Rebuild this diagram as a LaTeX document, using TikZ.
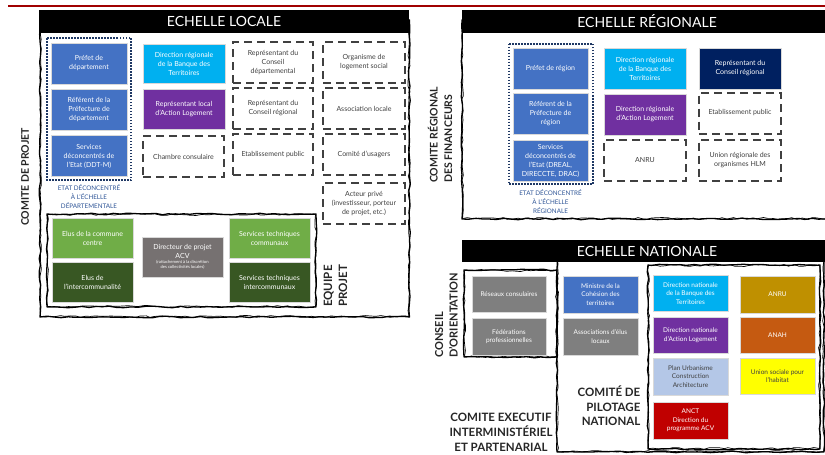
\documentclass[tikz,border=0pt]{standalone}
\usepackage{fontspec}
\setmainfont{Lato}
\usetikzlibrary{decorations.pathmorphing}
\definecolor{redline}{HTML}{A00000}
\definecolor{stblue}{HTML}{4472C4}
\definecolor{cyanb}{HTML}{00B0F0}
\definecolor{purpb}{HTML}{7030A0}
\definecolor{navyb}{HTML}{002060}
\definecolor{greenl}{HTML}{70AD47}
\definecolor{greend}{HTML}{385723}
\definecolor{grayd}{HTML}{767171}
\definecolor{grayn}{HTML}{7F7F7F}
\definecolor{lblue}{HTML}{B4C7E7}
\definecolor{redb}{HTML}{C00000}
\definecolor{goldb}{HTML}{BF9000}
\definecolor{orangeb}{HTML}{C55A11}
\definecolor{yellowb}{HTML}{FFFF00}
\definecolor{dotblue}{HTML}{1F3864}
\definecolor{etatblue}{HTML}{2F5597}
\definecolor{dashgray}{HTML}{404040}
\newcommand\fsz[2]{\fontsize{#1}{#2}\selectfont}
\tikzset{
  sz/.style 2 args={minimum width=#1, minimum height=#2},
  cbox/.style={inner sep=0pt, align=center, text=white, font=\fsz{7}{9}, draw=white!85!black, line width=0.4pt},
  nbox/.style={cbox, font=\fsz{6.5}{8.5}},
  dbox/.style={inner sep=0pt, align=center, text=dashgray, font=\fsz{7}{9}, draw=dashgray, line width=2pt, dash pattern=on 8pt off 5pt},
  sketch/.style={draw=black, line width=1.3pt, line join=round, decorate, decoration={random steps, segment length=7pt, amplitude=0.8pt}},
  sketchb/.style={draw=black, line width=0.7pt, line join=round, decorate, decoration={random steps, segment length=5pt, amplitude=1pt}},
  dotframe/.style={draw=dotblue, line width=2pt, dash pattern=on 1.5pt off 1.5pt},
  hdr/.style={fill=black, text=white, inner sep=0pt, font=\fsz{14}{16}},
  biglab/.style={inner sep=0pt, text=black!85, font=\bfseries\fsz{11}{14.5}},
  etat/.style={inner sep=0pt, align=center, text=etatblue, font=\fsz{6.3}{9}},
}
\begin{document}
\pgfmathsetseed{7}
\begin{tikzpicture}[x=1pt,y=-1pt]
\useasboundingbox (0,0) rectangle (825,455);
\fill[white] (0,0) rectangle (825,455);
\draw[redline, line width=1.5pt] (8,6) -- (825,6);

% ---------- frames ----------
\draw[sketch] (40,20) rectangle (409.5,317);
\draw[sketchb] (40.5,20) rectangle (409,316.5);
\draw[sketch] (47,214) rectangle (316,307);
\draw[sketchb] (47.5,214.5) rectangle (315.5,306.5);
\draw[sketch] (462,20) rectangle (835,219);
\draw[sketchb] (462.5,20) rectangle (835,218.5);
\draw[sketch] (557,258) rectangle (824,452);
\draw[sketchb] (557.5,258) rectangle (823.5,451.5);
\draw[sketch] (648,265) rectangle (820,449);
\draw[sketchb] (648.5,265.5) rectangle (819.5,448.5);
\draw[sketch] (464,270) rectangle (557,357);
\draw[sketchb] (464.5,270.5) rectangle (556.5,356.5);
\draw[dotframe] (47,38) rectangle (131,180);
\draw[dotframe] (508.5,43.5) rectangle (592.5,184);

% ---------- headers ----------
\node[hdr, sz={370}{23}] (hL) at (224,21.5) {ECHELLE LOCALE};
\node[hdr, sz={370}{23}] (hR) at (647,21.5) {ECHELLE RÉGIONALE};
\node[hdr, sz={370}{22}] (hN) at (647,251) {ECHELLE NATIONALE};

% ---------- local ----------
\node[cbox, fill=stblue, sz={76}{41}] (pref) at (89,63.5) {Préfet de\\département};
\node[cbox, fill=stblue, sz={76}{41}] (refd) at (89,109.5) {Référent de la\\Préfecture de\\département};
\node[cbox, fill=stblue, sz={76}{41}] (servd) at (89,156) {Services\\déconcentrés de\\l’Etat (DDT-M)};
\node[etat] (etatL) at (89,197) {ETAT DÉCONCENTRÉ\\À L’ÉCHELLE\\DÉPARTEMENTALE};
\node[cbox, fill=cyanb, sz={82}{39}] (drbt) at (184,63.5) {Direction régionale\\de la Banque des\\Territoires};
\node[cbox, fill=purpb, sz={82}{40}] (ral) at (184,109) {Représentant local\\d’Action Logement};
\node[dbox, sz={81}{41}] (chambre) at (183.5,156.5) {Chambre consulaire};
\node[dbox, sz={80}{41}] (rcd) at (273,62.5) {Représentant du\\Conseil\\départemental};
\node[dbox, sz={80}{41}] (rcr) at (273,108.5) {Représentant du\\Conseil régional};
\node[dbox, sz={80}{41}] (etab) at (273,154.5) {Etablissement public};
\node[dbox, sz={82}{41}] (org) at (364,62.5) {Organisme de\\logement social};
\node[dbox, sz={82}{41}] (assoc) at (364,108.5) {Association locale};
\node[dbox, sz={82}{41}] (comu) at (364,154.5) {Comité d’usagers};
\node[dbox, sz={82}{41}] (acteur) at (364,203.5) {Acteur privé\\(investisseur, porteur\\de projet, etc.)};
\node[cbox, fill=greenl, sz={81}{40}] (elusc) at (92.5,238) {Elus de la commune\\centre};
\node[cbox, fill=greend, sz={81}{40}] (elusi) at (92.5,282) {Elus de\\l’intercommunalité};
\node[cbox, fill=grayd, sz={81}{40}] (dir) at (182.5,257) {Directeur de projet\\ACV\\[-1.5pt]{\fsz{4.2}{5}\begin{tabular}{@{}c@{}}(rattachement à la discrétion\\des collectivités locales)\end{tabular}}};
\node[cbox, fill=greenl, sz={81}{40}] (stc) at (269.5,238) {Services techniques\\communaux};
\node[cbox, fill=greend, sz={81}{40}] (sti) at (269.5,282) {Services techniques\\intercommunaux};
\node[biglab, rotate=90, anchor=west, align=left, font=\bfseries\fsz{11.5}{15}] (equipe) at (335.5,307) {EQUIPE\\PROJET};
\node[biglab, rotate=90, font=\bfseries\fsz{10.5}{13}] (cprojet) at (25,177) {COMITE DE PROJET};

% ---------- regional ----------
\node[cbox, fill=stblue, sz={75}{41}] (prefr) at (550.5,68.5) {Préfet de région};
\node[cbox, fill=stblue, sz={75}{41}] (refr) at (550.5,114) {Référent de la\\Préfecture de\\région};
\node[cbox, fill=stblue, sz={75}{41}] (servr) at (550.5,160.5) {Services\\déconcentrés de\\l’Etat (DREAL,\\DIRECCTE, DRAC)};
\node[etat] (etatR) at (550.5,202) {ETAT DÉCONCENTRÉ\\À L’ÉCHELLE\\RÉGIONALE};
\node[cbox, fill=cyanb, sz={82}{41}] (drbtr) at (645,68.5) {Direction régionale\\de la Banque des\\Territoires};
\node[cbox, fill=purpb, sz={82}{41}] (dral) at (645,114.5) {Direction régionale\\d’Action Logement};
\node[dbox, sz={82}{41}] (anrur) at (645,160.5) {ANRU};
\node[cbox, fill=navyb, sz={82}{41}] (rcrr) at (740,68.5) {Représentant du\\Conseil régional};
\node[dbox, sz={82}{41}] (etabr) at (740,113) {Etablissement public};
\node[dbox, sz={82}{41}] (urhlm) at (740,160) {Union régionale des\\organismes HLM};
\node[biglab, rotate=90, anchor=west, align=left, font=\bfseries\fsz{10.5}{14.5}] (crf) at (440,183) {COMITE RÉGIONAL\\DES FINANCEURS};

% ---------- national ----------
\node[nbox, fill=grayn, sz={74}{36}] (reseaux) at (509,294) {Réseaux consulaires};
\node[nbox, fill=grayn, sz={74}{37}] (feder) at (509,336.5) {Fédérations\\professionnelles};
\node[nbox, fill=stblue, sz={75}{37}] (ministre) at (600.5,294.5) {Ministre de la\\Cohésion des\\territoires};
\node[nbox, fill=grayn, sz={75}{37}] (assocel) at (600.5,336.5) {Associations d’élus\\locaux};
\node[nbox, fill=cyanb, sz={75}{36}] (dnbt) at (690.5,293.5) {Direction nationale\\de la Banque des\\Territoires};
\node[nbox, fill=purpb, sz={75}{36}] (dnal) at (690.5,335) {Direction nationale\\d’Action Logement};
\node[nbox, fill=lblue, text=dashgray, sz={75}{37}] (puca) at (690.5,376.5) {Plan Urbanisme\\Construction\\Architecture};
\node[nbox, fill=redb, sz={75}{37}] (anct) at (690.5,420.5) {ANCT\\Direction du\\programme ACV};
\node[nbox, fill=goldb, sz={75}{37}] (anrun) at (777.5,294.5) {ANRU};
\node[nbox, fill=orangeb, sz={75}{36}] (anah) at (777.5,335) {ANAH};
\node[nbox, fill=yellowb, text=dashgray, sz={75}{36}] (ush) at (777.5,376) {Union sociale pour\\l’habitat};
\node[biglab, rotate=90, anchor=west, align=left] (conseil) at (446.5,358) {CONSEIL\\D’ORIENTATION};
\node[biglab, align=right, font=\bfseries\fsz{11.5}{14.5}] (copil) at (609,406) {COMITÉ DE\\PILOTAGE\\NATIONAL};
\node[biglab, align=center, font=\bfseries\fsz{11.5}{15}] (cexec) at (501,432) {COMITE EXECUTIF\\INTERMINISTÉRIEL\\ET PARTENARIAL};
\end{tikzpicture}
\end{document}
